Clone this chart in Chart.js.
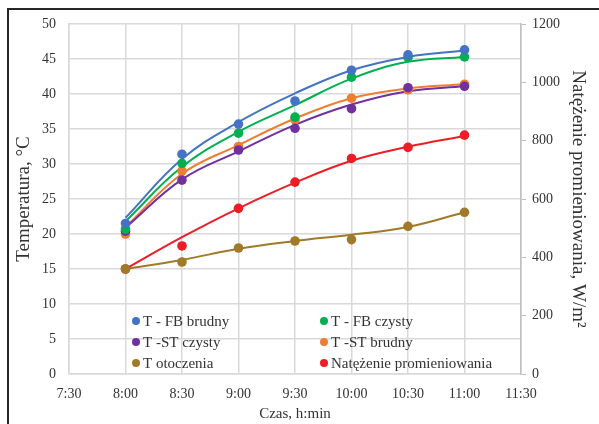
<!DOCTYPE html>
<html>
<head>
<meta charset="utf-8">
<script src="https://cdn.jsdelivr.net/npm/chart.js@4"></script>
<style>
  html, body { margin: 0; padding: 0; background: #fff; }
  #wrap { position: relative; width: 599px; height: 424px; overflow: hidden; }
  #frame { position: absolute; left: 7px; top: 8px; width: 700px; height: 500px;
           border-top: 2px solid #262626; border-left: 2px solid #262626; pointer-events: none; }
  canvas { position: absolute; left: 0; top: 0; }
</style>
</head>
<body>
<div id="wrap">
  <canvas id="c" width="599" height="424"></canvas>
  <div id="frame"></div>
</div>
<script>
// ---- data ----
const times = ['8:00', '8:30', '9:00', '9:30', '10:00', '10:30', '11:00'];
const xTickLabels = ['7:30', '8:00', '8:30', '9:00', '9:30', '10:00', '10:30', '11:00', '11:30'];

// measured points (°C)
const tFBbrudny  = [21.5, 31.4, 35.7, 39.0, 43.4, 45.6, 46.3];
const tFBczysty  = [20.7, 30.1, 34.4, 36.7, 42.4, 45.2, 45.3];
const tSTczysty  = [20.4, 27.7, 32.0, 35.1, 37.9, 40.9, 41.1];
const tSTbrudny  = [20.0, 29.0, 32.5, 36.3, 39.4, 40.6, 41.4];
const tOtoczenia = [15.0, 16.0, 18.0, 19.0, 19.2, 21.1, 23.1];
// measured irradiance (W/m2)
const natezenie  = [360, 439, 568, 658, 739, 777, 819];

// trend lines at the same times
const fitFBbrudny  = [22.3, 30.7, 36.0, 40.1, 43.4, 45.3, 46.2];
const fitFBczysty  = [21.8, 29.6, 34.6, 38.4, 42.2, 44.6, 45.3];
const fitSTczysty  = [20.9, 27.8, 31.8, 35.6, 38.5, 40.4, 41.1];
const fitSTbrudny  = [21.0, 28.6, 32.7, 36.5, 39.4, 40.8, 41.4];
const fitOtoczenia = [15.0, 16.3, 17.9, 19.0, 19.9, 21.0, 23.1];
const fitNatezenie = [360, 469, 568, 656, 731, 779, 816];

const seriesNames = ['T - FB brudny', 'T - FB czysty', 'T -ST czysty', 'T -ST brudny', 'T otoczenia', 'Natężenie promieniowania'];
const seriesColors = ['#4472C4', '#00B050', '#7030A0', '#ED7D31', '#A07A28', '#EE1C25'];

// ---- build ----
const toMin = s => { const [h, m] = s.split(':').map(Number); return h * 60 + m; };
const xs = times.map(toMin);
const pts = arr => arr.map((v, i) => ({ x: xs[i], y: v }));

const pointSeries = [tFBbrudny, tFBczysty, tSTczysty, tSTbrudny, tOtoczenia, natezenie];
const fitSeries = [fitFBbrudny, fitFBczysty, fitSTczysty, fitSTbrudny, fitOtoczenia, fitNatezenie];

const datasets = [];
fitSeries.forEach((arr, i) => {
  datasets.push({
    type: 'line', label: seriesNames[i] + ' trend', data: pts(arr),
    yAxisID: i === 5 ? 'y2' : 'y',
    borderColor: seriesColors[i], borderWidth: 2, pointRadius: 0,
    tension: 0.4, fill: false, order: 2
  });
});
pointSeries.forEach((arr, i) => {
  datasets.push({
    type: 'line', label: seriesNames[i], data: pts(arr), showLine: false,
    yAxisID: i === 5 ? 'y2' : 'y',
    backgroundColor: seriesColors[i], borderColor: seriesColors[i],
    pointRadius: 4.8, pointBorderWidth: 0, order: 1
  });
});

const FAMILY = '"Liberation Serif", "Times New Roman", serif';
const FONT = { family: FAMILY, size: 14 };
const TITLE_Y = { family: FAMILY, size: 19 };
const LEGEND_SIZE = 15;
const TXT = '#333333';
const GRID = '#d9d9d9';

const legendPlugin = {
  id: 'insideLegend',
  afterDatasetsDraw(chart) {
    const ctx = chart.ctx;
    const order = [0, 1, 2, 3, 4, 5];
    const colX = [136, 324];
    const rowY = [321, 342, 363];
    ctx.save();
    ctx.font = LEGEND_SIZE + 'px ' + FAMILY;
    ctx.textBaseline = 'middle';
    ctx.textAlign = 'left';
    order.forEach((di, k) => {
      const x = colX[k % 2], y = rowY[Math.floor(k / 2)];
      ctx.fillStyle = seriesColors[di];
      ctx.beginPath(); ctx.arc(x, y, 4, 0, Math.PI * 2); ctx.fill();
      ctx.fillStyle = TXT;
      ctx.fillText(seriesNames[di], x + 7, y + 1);
    });
    ctx.restore();
  }
};

new Chart(document.getElementById('c'), {
  type: 'line',
  data: { datasets },
  options: {
    responsive: false, animation: false,
    layout: { padding: { top: 24, left: 0, right: 0, bottom: 0 } },
    plugins: { legend: { display: false }, tooltip: { enabled: false } },
    scales: {
      x: {
        type: 'linear', min: 450, max: 690,
        ticks: { stepSize: 30, font: FONT, color: TXT, padding: 12,
                 callback: (v) => xTickLabels[Math.round((v - 450) / 30)] },
        grid: { color: GRID, lineWidth: 1.5, drawTicks: false },
        border: { color: GRID, width: 1.5 },
        title: { display: true, text: 'Czas, h:min', font: { family: FAMILY, size: 15 }, color: TXT, padding: { top: 0, bottom: 1 } },
        afterFit: s => { s.height = 50; }
      },
      y: {
        position: 'left', min: 0, max: 50,
        ticks: { stepSize: 5, font: FONT, color: TXT, padding: 13 },
        grid: { color: GRID, lineWidth: 1.5, drawTicks: false },
        border: { color: GRID, width: 1.5 },
        title: { display: true, text: 'Temperatura, °C', font: TITLE_Y, color: TXT, padding: { top: 12.5, bottom: 0 } },
        afterFit: s => { s.width = 69; }
      },
      y2: {
        position: 'right', min: 0, max: 1200,
        ticks: { stepSize: 200, font: FONT, color: TXT, padding: 6, callback: v => String(v) },
        grid: { drawOnChartArea: false, drawTicks: true, tickLength: 5, color: '#bfbfbf' },
        border: { color: '#bfbfbf', width: 1.5 },
        title: { display: true, text: 'Natężenie promieniowania, W/m²', font: TITLE_Y, color: TXT, padding: { top: 9.5, bottom: 0 } },
        afterFit: s => { s.width = 78; }
      }
    }
  },
  plugins: [legendPlugin]
});
</script>
</body>
</html>
